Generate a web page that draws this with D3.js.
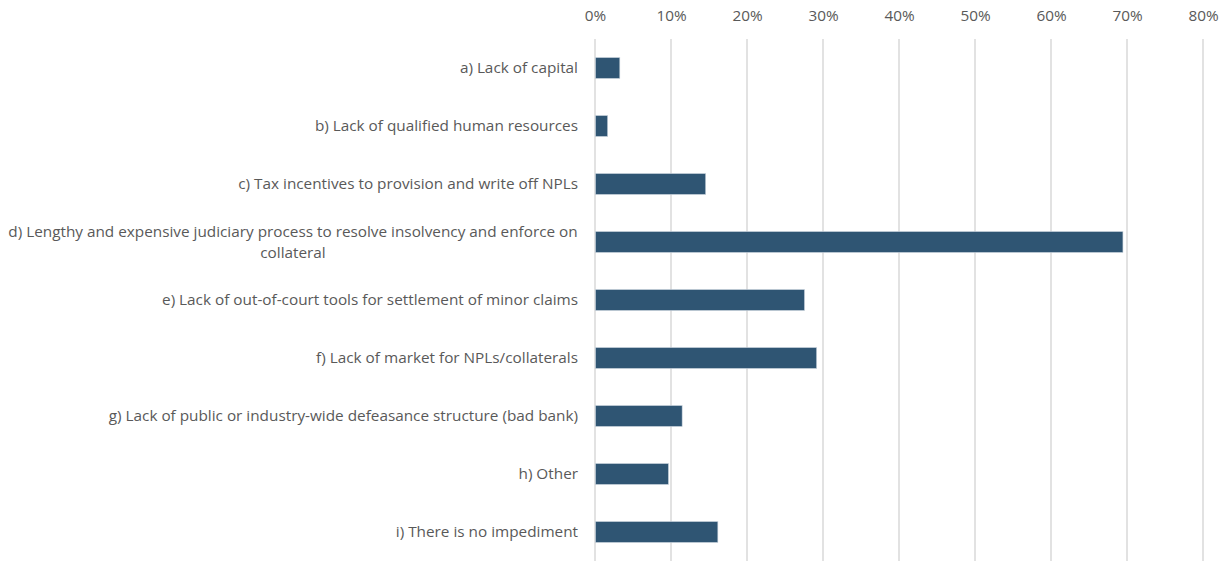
<!DOCTYPE html>
<html><head><meta charset="utf-8">
<script src="https://cdn.jsdelivr.net/npm/d3@7"></script>
<style>body{margin:0;background:#fff}svg{display:block}</style>
</head><body><svg id="c" width="1227" height="561"></svg>
<script>
const categories = [
  "a) Lack of capital",
  "b) Lack of qualified human resources",
  "c) Tax incentives to provision and write off NPLs",
  "d) Lengthy and expensive judiciary process to resolve insolvency and enforce on|collateral",
  "e) Lack of out-of-court tools for settlement of minor claims",
  "f) Lack of market for NPLs/collaterals",
  "g) Lack of public or industry-wide defeasance structure (bad bank)",
  "h) Other",
  "i) There is no impediment"
];
const values = [3.2, 1.6, 14.5, 69.4, 27.5, 29.1, 11.4, 9.6, 16.1];
const ticks = [0, 10, 20, 30, 40, 50, 60, 70, 80];

const svg = d3.select("#c");
const font = "'Open Sans', sans-serif";
const x = d3.scaleLinear().domain([0, 80]).range([595, 1203]);
const y = d3.scaleBand().domain(categories).range([39, 561]).paddingInner(0.64).paddingOuter(0.32);

// measure font size so longest line is ~570px
const probe = svg.append("text").style("font-family", font).style("font-size", "14px")
  .text(categories[3].split("|")[0]);
const w = probe.node().getComputedTextLength();
probe.remove();
const fs = Math.min(15.5, 14 * 570 / w);

// gridlines
svg.append("g").selectAll("line").data(ticks).join("line")
  .attr("x1", d => x(d)).attr("x2", d => x(d))
  .attr("y1", 39).attr("y2", 561)
  .attr("stroke", "#d9d9d9").attr("stroke-width", 1.5);

// axis
const ax = svg.append("g").attr("transform", "translate(0,39)")
  .call(d3.axisTop(x).tickValues(ticks).tickFormat(d => d + "%").tickSize(0).tickPadding(18));
ax.select(".domain").remove();
ax.selectAll("text").attr("fill", "#595959").style("font-family", font).style("font-size", fs + "px");

// bars
svg.append("g").selectAll("rect").data(values).join("rect")
  .attr("x", x(0) + 0.5)
  .attr("y", (d, i) => y(categories[i]))
  .attr("width", d => x(d) - x(0))
  .attr("height", y.bandwidth())
  .attr("fill", "#2f5573")
  .attr("stroke", "#c9d3dc").attr("stroke-width", 0.6);

// labels
const lg = svg.append("g");
categories.forEach(c => {
  const lines = c.split("|");
  const cy = y(c) + y.bandwidth() / 2;
  const t = lg.append("text").attr("fill", "#595959").style("font-family", font).style("font-size", fs + "px");
  if (lines.length === 1) {
    t.attr("x", 578).attr("y", cy).attr("dy", "0.35em").attr("text-anchor", "end").text(c);
  } else {
    t.attr("text-anchor", "middle");
    lines.forEach((l, k) => {
      t.append("tspan").attr("x", 293).attr("y", cy + (k - 0.5) * 21).attr("dy", "0.35em").text(l);
    });
  }
});
</script></body></html>
